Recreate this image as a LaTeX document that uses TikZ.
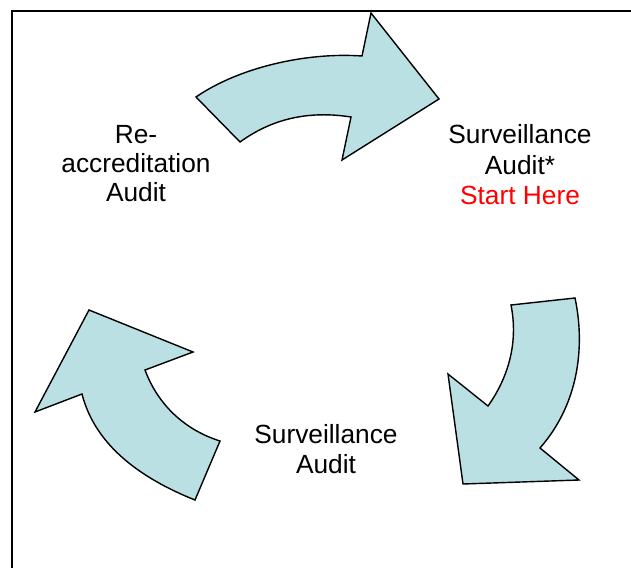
\documentclass[tikz,border=0pt]{standalone}
\usepackage{fontspec}
\setmainfont{Liberation Sans}
\definecolor{arrowfill}{RGB}{186,224,227}
\definecolor{starthere}{RGB}{255,0,0}
\begin{document}
\begin{tikzpicture}[x=1pt,y=-1pt,
  cyclearrow/.style={draw=black,line width=1.4pt,fill=arrowfill,line join=miter},
  lbl/.style={anchor=base,inner sep=0pt,font=\fontsize{26.3}{30}\selectfont},
  frameline/.style={draw=black,line width=1.3pt}]
\useasboundingbox (0,0) rectangle (631,567);
% frame
\coordinate (fbl) at (12,568);
\coordinate (ftl) at (12,11);
\coordinate (ftr) at (632,11);
\draw[frameline] (fbl) -- (ftl) -- (ftr);
% top arrow
\draw[cyclearrow] (196,97) .. controls (238,68) and (305,52) .. (362,56)
  -- (371,13) -- (439,99) -- (342,160) -- (351,117)
  .. controls (300,109) and (265,124) .. (240,142) -- cycle;
% right arrow
\draw[cyclearrow] (575,298) .. controls (584,340) and (582,400) .. (540,448)
  -- (579,480) -- (463,484) -- (448,374) -- (488,406)
  .. controls (510,375) and (518,340) .. (511,305) -- cycle;
% left arrow
\draw[cyclearrow] (195,500) .. controls (140,478) and (95,445) .. (82,394)
  -- (35,412) -- (89,310) -- (193,352) -- (145,370)
  .. controls (158,405) and (185,430) .. (220,441) -- cycle;
% labels
\node[lbl] (r1) at (136,143) {Re-};
\node[lbl] (r2) at (136,172) {accreditation};
\node[lbl] (r3) at (136,201) {Audit};
\node[lbl] (s1) at (520,143) {Surveillance};
\node[lbl] (s2) at (520,174) {Audit*};
\node[lbl,text=starthere] (s3) at (520,204) {Start Here};
\node[lbl] (b1) at (326,443) {Surveillance};
\node[lbl] (b2) at (326,473) {Audit};
\end{tikzpicture}
\end{document}
